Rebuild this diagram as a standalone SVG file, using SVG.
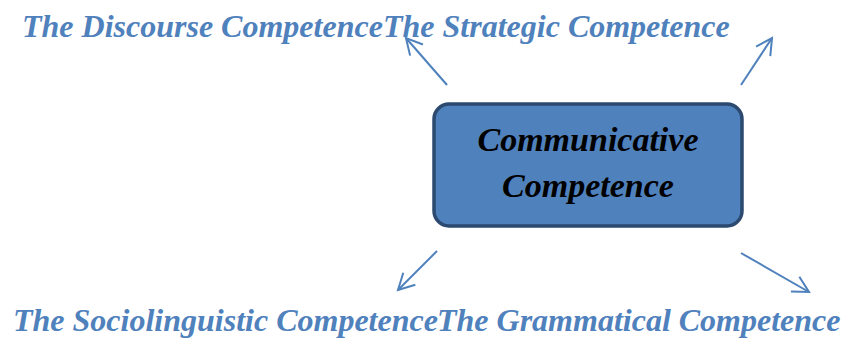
<svg xmlns="http://www.w3.org/2000/svg" width="843" height="338" viewBox="0 0 843 338">
  <style>
    .label { font-family: "Liberation Serif", "Times New Roman", serif; font-weight: bold; font-style: italic; font-size: 32px; fill: #4f81bd; }
    .core { font-family: "Liberation Serif", "Times New Roman", serif; font-weight: bold; font-style: italic; font-size: 34px; fill: #000000; text-anchor: middle; }
    .box { fill: #4f81bd; stroke: #2c4a6f; stroke-width: 3.5; }
    .link { fill: none; stroke: #4f81bd; stroke-width: 2; marker-end: url(#open-arrow); }
  </style>
  <defs>
    <marker id="open-arrow" markerUnits="userSpaceOnUse" markerWidth="24" markerHeight="24" viewBox="-20 -12 24 24" refX="0" refY="0" orient="auto">
      <path d="M-16,-8.5 L0,0 L-16,8.5" fill="none" stroke="#4f81bd" stroke-width="2" stroke-linejoin="miter"/>
    </marker>
  </defs>

  <rect width="843" height="338" fill="#ffffff"/>

  <g id="communicative-competence">
    <rect class="box" x="434" y="104" width="308" height="122" rx="15" ry="15"/>
    <text class="core" x="588" y="151">Communicative</text>
    <text class="core" x="588" y="197">Competence</text>
  </g>

  <g id="discourse-competence">
    <text class="label" x="22" y="37">The Discourse Competence</text>
  </g>

  <g id="strategic-competence">
    <text class="label" x="383" y="37">The Strategic Competence</text>
  </g>

  <g id="sociolinguistic-competence">
    <text class="label" x="13" y="331">The Sociolinguistic Competence</text>
  </g>

  <g id="grammatical-competence">
    <text class="label" x="437" y="331">The Grammatical Competence</text>
  </g>

  <g id="connectors">
    <line class="link" x1="447" y1="85" x2="406" y2="38"/>
    <line class="link" x1="741" y1="85" x2="772" y2="38"/>
    <line class="link" x1="437" y1="251" x2="398" y2="290"/>
    <line class="link" x1="741" y1="253" x2="809" y2="292"/>
  </g>
</svg>
